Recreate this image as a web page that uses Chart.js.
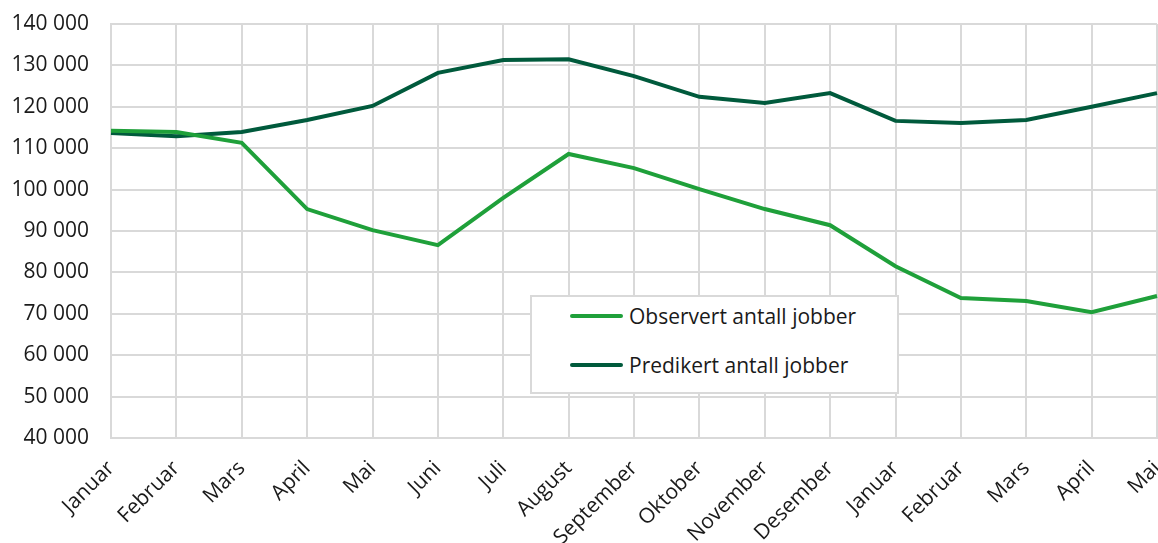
<!DOCTYPE html>
<html>
<head>
<meta charset="utf-8">
<script src="https://cdn.jsdelivr.net/npm/chart.js@4"></script>
<style>
  html, body { margin: 0; padding: 0; background: #fff; }
  #wrap { position: relative; width: 1158px; height: 543px; }
  #legend {
    position: absolute; left: 530px; top: 295px; width: 365px; height: 95px;
    background: #fff; border: 2px solid #d9d9d9;
    font-family: "Open Sans", sans-serif; font-size: 21px; color: #1a1a1a;
  }
  .item { position: absolute; left: 38px; display: flex; align-items: center; }
  .swatch { width: 53px; height: 4px; border-radius: 2px; margin-right: 6px; }
</style>
</head>
<body>
<div id="wrap">
  <canvas id="chart" width="1158" height="543"></canvas>
  <div id="legend">
    <div class="item" style="top: 5px;"><span class="swatch" style="background:#1fa03a"></span>Observert antall jobber</div>
    <div class="item" style="top: 54px;"><span class="swatch" style="background:#005a3c"></span>Predikert antall jobber</div>
  </div>
</div>
<script>
const months = ['Januar', 'Februar', 'Mars', 'April', 'Mai', 'Juni', 'Juli', 'August', 'September',
  'Oktober', 'November', 'Desember', 'Januar', 'Februar', 'Mars', 'April', 'Mai']

const observed = [114200, 113900, 111300, 95300, 90200, 86600, 98000, 108600, 105200,
  100100, 95300, 91400, 81500, 73800, 73100, 70400, 74300]

const predicted = [113700, 112900, 113900, 116800, 120200, 128200, 131300, 131500, 127400,
  122400, 120900, 123300, 116600, 116100, 116800, 120000, 123300]

const yMin = 40000
const yMax = 140000
const yStep = 10000

// 140 000 style thousands separator
function fmt(v) {
  return String(v).replace(/\B(?=(\d{3})+(?!\d))/g, ' ')
}

const font = { family: "'Open Sans', sans-serif", size: 21 }

new Chart(document.getElementById('chart'), {
  type: 'line',
  data: {
    labels: months,
    datasets: [
      {
        label: 'Observert antall jobber',
        data: observed,
        borderColor: '#1fa03a',
        borderWidth: 4,
        pointRadius: 0,
        tension: 0
      },
      {
        label: 'Predikert antall jobber',
        data: predicted,
        borderColor: '#005a3c',
        borderWidth: 4,
        pointRadius: 0,
        tension: 0
      }
    ]
  },
  options: {
    responsive: false,
    animation: false,
    layout: { padding: { top: 24, left: 0, right: 1, bottom: 0 } },
    plugins: {
      legend: { display: false },
      tooltip: { enabled: false }
    },
    scales: {
      x: {
        offset: false,
        grid: { color: '#d9d9d9', lineWidth: 2, drawTicks: false },
        border: { color: '#d9d9d9', width: 2 },
        ticks: {
          font: font,
          color: '#1a1a1a',
          maxRotation: 45,
          minRotation: 45,
          autoSkip: false,
          padding: 18
        },
        afterFit: function(scale) {
          scale.height = 105
          scale.paddingRight = 0
          scale.paddingLeft = 0
        }
      },
      y: {
        min: yMin,
        max: yMax,
        grid: { color: '#d9d9d9', lineWidth: 2, drawTicks: false },
        border: { color: '#d9d9d9', width: 2 },
        ticks: {
          stepSize: yStep,
          font: font,
          color: '#1a1a1a',
          padding: 22,
          callback: function(value) {
            return fmt(value)
          }
        },
        afterFit: function(scale) {
          scale.width = 111
          scale.paddingTop = 0
          scale.paddingBottom = 0
        }
      }
    }
  }
})
</script>
</body>
</html>
